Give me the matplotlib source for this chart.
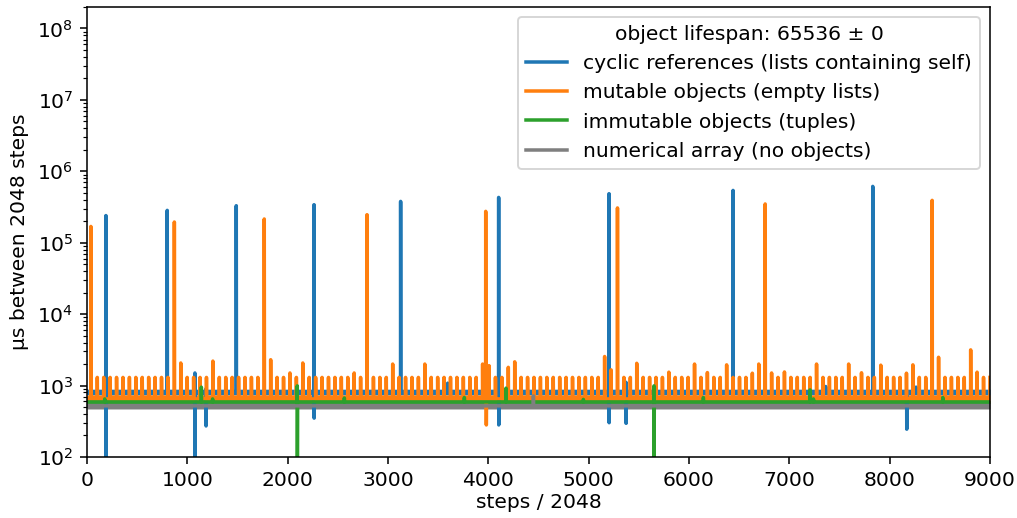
import numpy as np
import matplotlib
matplotlib.use("Agg")
import matplotlib.pyplot as plt

plt.rcParams["font.size"] = 10.4

N_STEPS = 9000
steps = np.arange(N_STEPS)

LABELS = [
    "cyclic references (lists containing self)",
    "mutable objects (empty lists)",
    "immutable objects (tuples)",
    "numerical array (no objects)",
]
COLORS = ["tab:blue", "tab:orange", "tab:green", "tab:gray"]

# typical level of each series and the spread of its noisy band (µs)
blue_base, blue_band = 800, (740, 890)
orange_base, orange_band = 650, (565, 740)
green_base, green_band = 590, (560, 620)
gray_base, gray_band = 520, (470, 570)

# isolated spikes: (step, µs)
blue_spikes = [
    (189, 2.4e5), (190, 50), (800, 2.84e5), (1076, 1500), (1077, 50),
    (1186, 900), (1187, 272), (1488, 3.3e5), (2263, 3.41e5), (2264, 350),
    (3126, 3.79e5), (3595, 1080), (4103, 4.31e5), (4104, 281),
    (5203, 4.86e5), (5204, 302), (5372, 1110), (5373, 296),
    (6439, 5.4e5), (7362, 970), (7831, 6.15e5), (8170, 245), (8263, 950),
]
green_spikes = [
    (177, 650), (1140, 950), (1252, 650), (2096, 990), (2097, 50),
    (2565, 670), (3761, 680), (4176, 920), (4947, 640), (5651, 990),
    (5652, 50), (6143, 680), (7206, 870), (7240, 650), (8529, 680),
]
gray_spikes = [(4449, 717)]

# mutable objects: a small spike every 64 steps starting at step 39
orange_tick_start, orange_tick_step = 39, 64
orange_tick_heights = [
    1.69e5, 1300, 1300, 1300, 1300, 1300, 1300, 1300, 1300, 1300,
    1300, 1300, 1300, 1.95e5, 2070, 1300, 1300, 1300, 1300, 2200,
    1300, 1300, 1300, 1300, 1300, 1300, 1300, 2.15e5, 2300, 1300,
    1300, 1500, 1300, 2070, 1300, 1300, 1300, 1300, 1300, 1300,
    1300, 1500, 1300, 2.47e5, 1300, 1300, 1300, 2000, 1300, 1300,
    1300, 1300, 2000, 1300, 1300, 1300, 1300, 1300, 1300, 1300,
    1300, 2000, 1900, 1300, 1300, 1800, 2150, 1300, 1300, 1300,
    1300, 1300, 1300, 1300, 1300, 1300, 1300, 1300, 1300, 1300,
    2550, 1660, 3.07e5, 1300, 1300, 2050, 1300, 1300, 1300, 1300,
    1540, 1300, 1300, 1300, 2000, 1300, 1520, 1300, 1300, 1950,
    1300, 1300, 1300, 1490, 2000, 3.49e5, 1500, 1300, 1550, 1300,
    1300, 1300, 1300, 2000, 1300, 1300, 1300, 1300, 2000, 1300,
    1510, 1300, 1300, 1930, 1300, 1300, 1300, 1490, 1950, 1300,
    1300, 3.92e5, 2490, 1300, 1300, 1300, 1300, 3160, 1540, 1300,
    1300,
]
orange_spikes = [(3974, 2.75e5), (3980, 281)]


def build(base, spikes):
    y = np.full(N_STEPS, float(base))
    for s, v in spikes:
        y[s] = v
    return y


orange_ticks = list(zip(range(orange_tick_start, N_STEPS, orange_tick_step),
                        orange_tick_heights))

series = [
    (build(blue_base, blue_spikes), blue_band),
    (build(orange_base, orange_ticks + orange_spikes), orange_band),
    (build(green_base, green_spikes), green_band),
    (build(gray_base, gray_spikes), gray_band),
]

fig = plt.figure(figsize=(1017 / 140, 518 / 140), dpi=140)
ax = fig.add_axes([0.0855, 0.1178, 0.888, 0.8687])

for (y, band), label, color in zip(series, LABELS, COLORS):
    ax.fill_between(steps, band[0], band[1], color=color, lw=0)
    ax.plot(steps, y, color=color, lw=1.8, label=label)

ax.set_yscale("log")
ax.set_ylim(1e2, 2e8)
ax.set_xlim(0, 9000)
ax.set_xlabel("steps / 2048", labelpad=2)
ax.set_ylabel("µs between 2048 steps")
ax.legend(loc="upper right", title="object lifespan: 65536 ± 0")

fig.savefig("out.png", dpi=140)
